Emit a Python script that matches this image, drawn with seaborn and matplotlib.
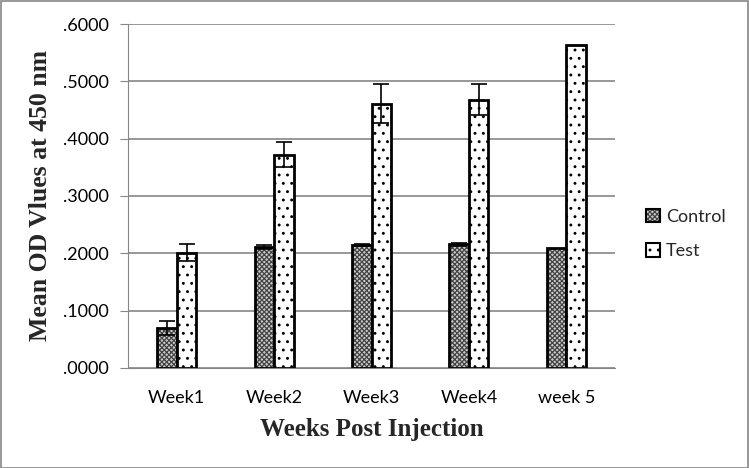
import numpy as np
import pandas as pd
import matplotlib
matplotlib.use('Agg')
import matplotlib.pyplot as plt
import seaborn as sns

weeks = ['Week1', 'Week2', 'Week3', 'Week4', 'week 5']
groups = ['Control', 'Test']
control = [0.0702, 0.2108, 0.2140, 0.2155, 0.2085]
test = [0.2010, 0.3720, 0.4605, 0.4675, 0.5630]
control_err = [0.0120, 0.0030, 0.0020, 0.0020, np.nan]
test_err = [0.0150, 0.0220, 0.0340, 0.0270, np.nan]

df = pd.DataFrame({
    'week': weeks * 2,
    'group': ['Control'] * len(weeks) + ['Test'] * len(weeks),
    'value': control + test,
})

sns.set_style('white')
plt.rcParams['hatch.linewidth'] = 0.9

fig = plt.figure(figsize=(7.49, 4.68), dpi=100)
ax = fig.add_axes([0.171, 0.2137, 0.65, 0.735])

# control bars get a light grey face under a dense dark cross hatch
sns.barplot(data=df, x='week', y='value', hue='group', hue_order=groups,
            palette=['#cccccc', 'white'], width=0.4, errorbar=None,
            edgecolor='black', linewidth=2, saturation=1, ax=ax)

hatches = ['xxxxxxx', '..']
hcolors = ['#444444', 'black']
errs = [control_err, test_err]
for cont, h, hc, err in zip(ax.containers, hatches, hcolors, errs):
    xs = []
    ys = []
    for bar in cont:
        bar.set_hatch(h)
        bar._hatch_color = matplotlib.colors.to_rgba(hc)
        xs.append(bar.get_x() + bar.get_width() / 2)
        ys.append(bar.get_height())
    ax.errorbar(xs, ys, yerr=err, fmt='none', ecolor='black',
                elinewidth=1.2, capsize=6, capthick=1.2, zorder=5)

ax.set_ylim(0, 0.6)
ax.set_xlim(-0.5, 4.5)
ax.set_yticks(np.arange(0, 0.61, 0.1))
ax.set_yticklabels(['.%04d' % round(v * 10000) for v in np.arange(0, 0.61, 0.1)])
ax.yaxis.grid(True, color='#868686', linewidth=1.2)
ax.set_axisbelow(True)
for s in ['top', 'right']:
    ax.spines[s].set_visible(False)
ax.spines['left'].set_color('#868686')
ax.spines['bottom'].set_color('#868686')
ax.tick_params(axis='y', left=True, length=6, color='#868686', pad=8)
ax.tick_params(axis='x', bottom=False, pad=12)

for lab in ax.get_xticklabels() + ax.get_yticklabels():
    lab.set_fontfamily('Lato')
    lab.set_fontsize(13)
    lab.set_color('black')

ax.set_xlabel('Weeks Post Injection', fontfamily='Liberation Serif',
              fontweight='bold', fontsize=18, labelpad=9)
ax.set_ylabel('Mean OD Vlues at 450 nm', fontfamily='Liberation Serif',
              fontweight='bold', fontsize=18.5, labelpad=8)

leg = ax.legend(loc='center left', bbox_to_anchor=(1.03, 0.39), frameon=False,
                prop={'family': 'Lato', 'size': 13}, handlelength=0.8,
                handleheight=0.8, handletextpad=0.3, labelspacing=1.0)
for hnd, h, hc in zip(leg.legend_handles, hatches, hcolors):
    hnd.set_hatch(h)
    hnd._hatch_color = matplotlib.colors.to_rgba(hc)
    hnd.set_linewidth(1.5)

fig.patches.append(plt.Rectangle((0.001, 0.001), 0.997, 0.997, transform=fig.transFigure,
                                 fill=False, edgecolor='#868686', linewidth=1.2))

fig.savefig('out.png', dpi=100)
